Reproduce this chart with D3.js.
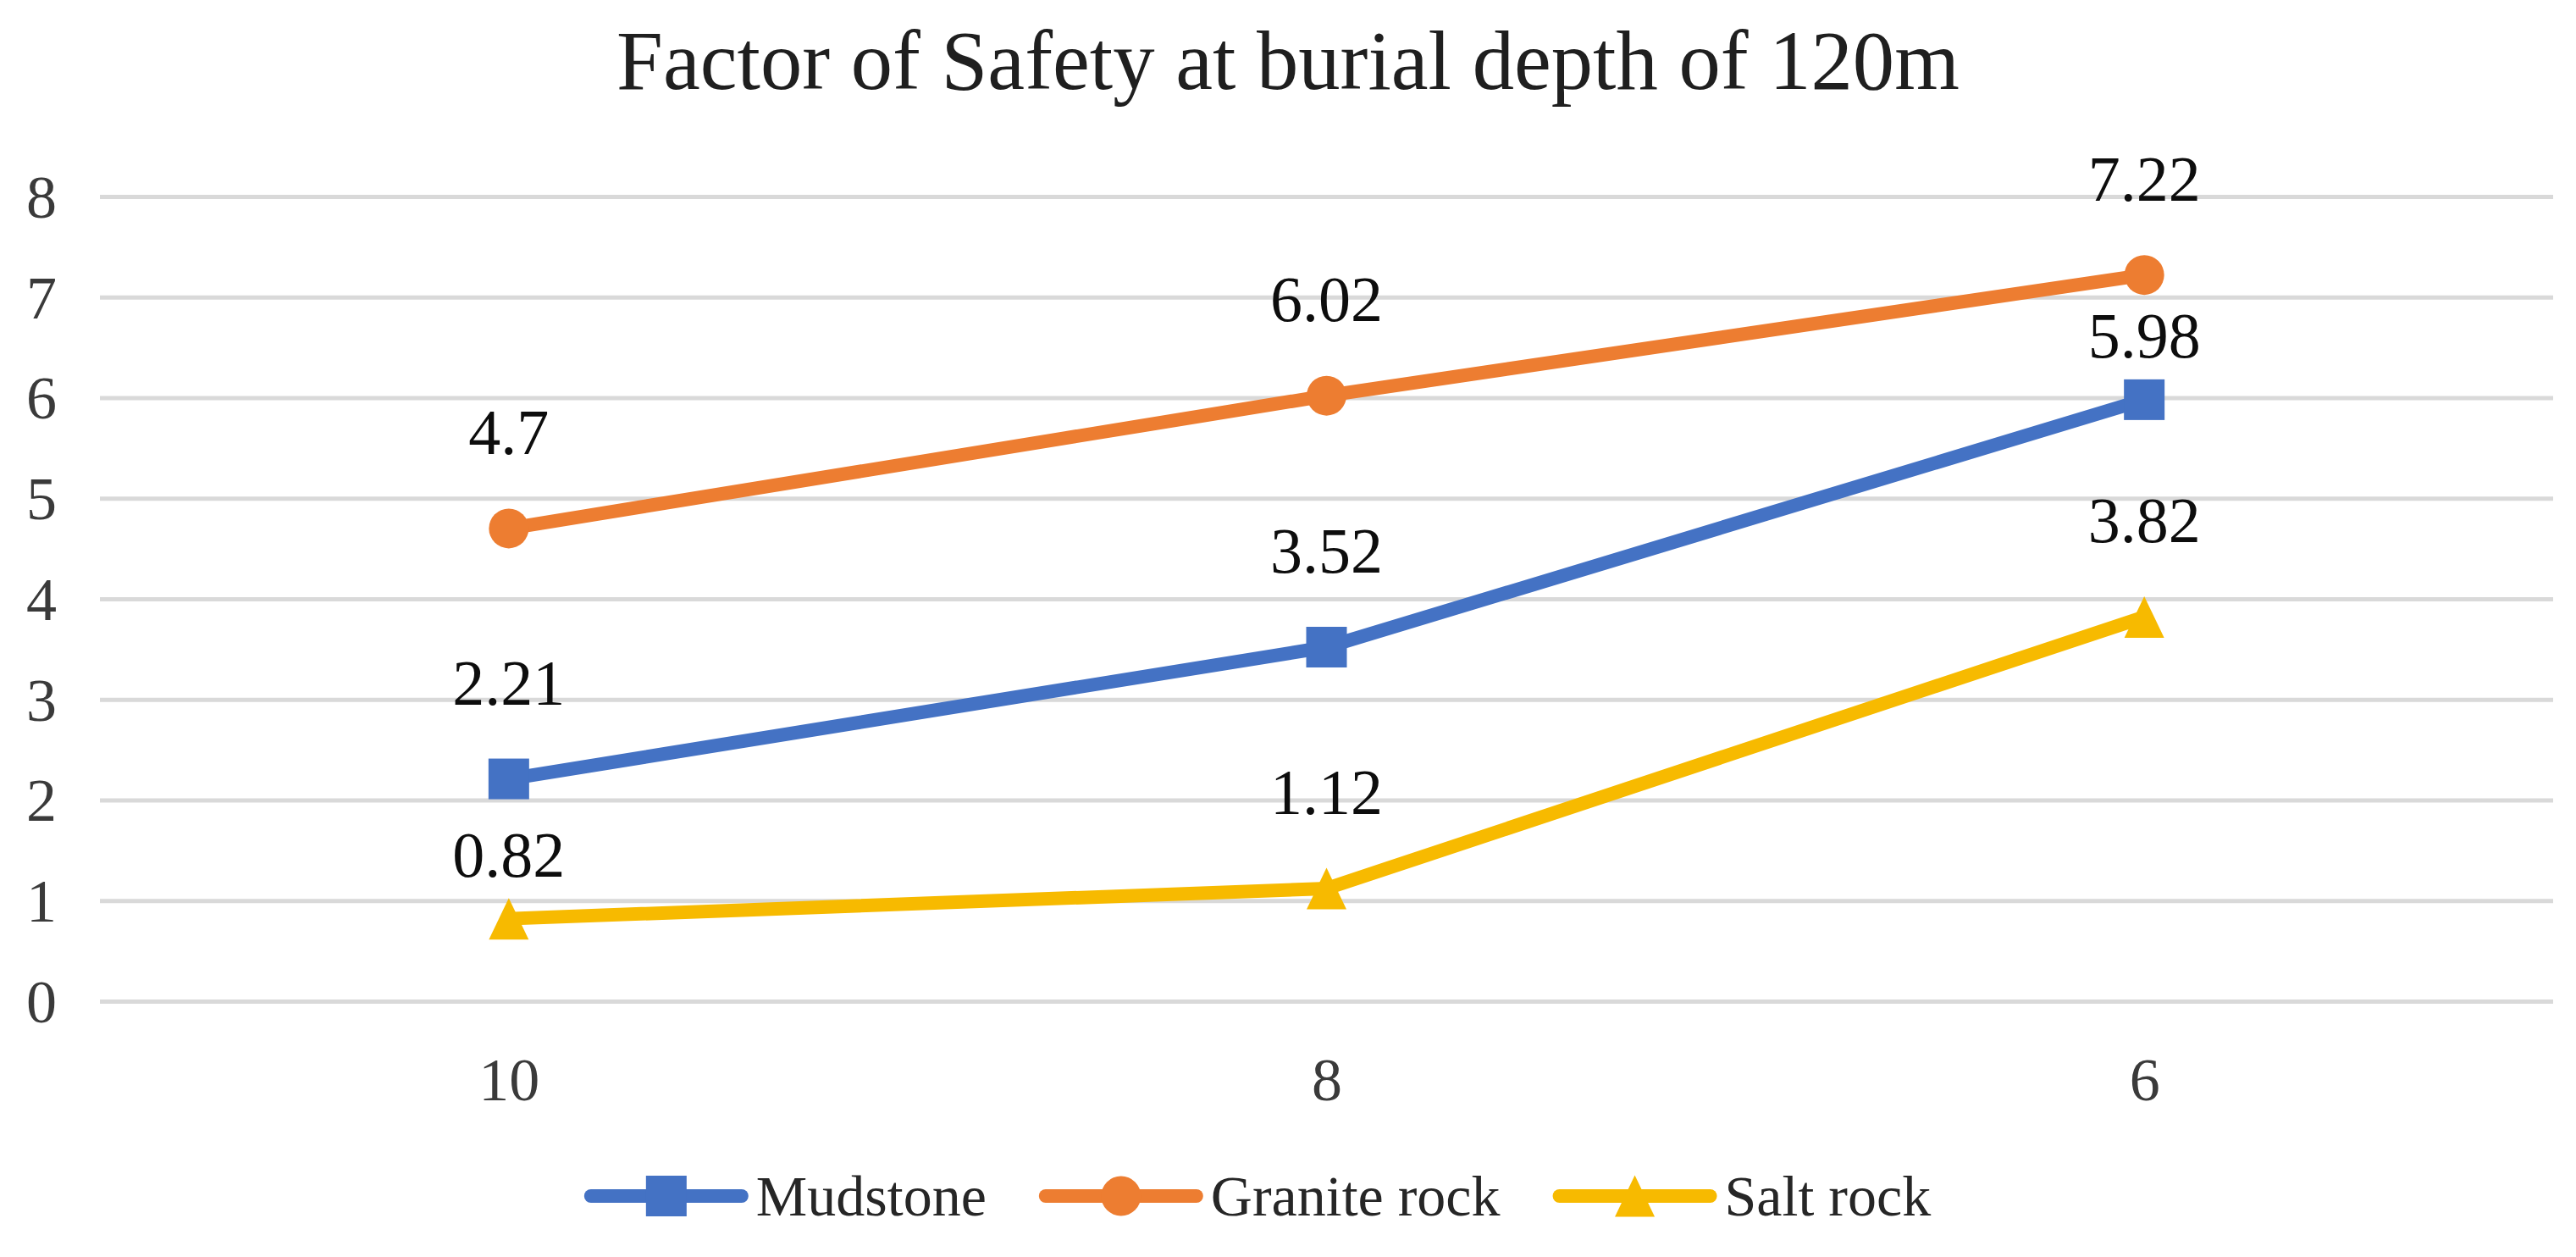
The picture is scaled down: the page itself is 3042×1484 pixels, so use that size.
<!DOCTYPE html>
<html>
<head>
<meta charset="utf-8">
<script src="https://cdn.jsdelivr.net/npm/d3@7"></script>
<style>
  html, body { margin: 0; padding: 0; background: #ffffff; }
  svg { display: block; }
  text { font-family: "Liberation Serif", "Times New Roman", serif; }
</style>
</head>
<body>
<svg id="chart" width="3042" height="1484"></svg>
<script>
// ---- data ----
const titleText = "Factor of Safety at burial depth of 120m";
const categories = ["10", "8", "6"];
const seriesNames = ["Mudstone", "Granite rock", "Salt rock"];
const mudstone = [2.21, 3.52, 5.98];
const granite = [4.7, 6.02, 7.22];
const salt = [0.82, 1.12, 3.82];
const yTicks = [0, 1, 2, 3, 4, 5, 6, 7, 8];

const seriesColors = ["#4472C4", "#ED7D31", "#F7BA00"];
const seriesShapes = ["square", "circle", "triangle"];
const seriesValues = [mudstone, granite, salt];

// labels that were moved closer to their markers in the original (series index, point index)
const labelNudge = { "0-2": 38, "2-0": 38 };

// ---- layout ----
const W = 3042, H = 1484;
const plotLeft = 118, plotRight = 3015, plotTop = 232, plotBottom = 1182;

const svg = d3.select("#chart");
svg.append("rect").attr("width", W).attr("height", H).attr("fill", "#ffffff");

const x = d3.scalePoint().domain(categories).range([plotLeft, plotRight]).padding(0.5);
const y = d3.scaleLinear().domain([0, 8]).range([plotBottom, plotTop]);

// title
const title = svg.append("text")
  .attr("x", 1521).attr("y", 105)
  .attr("text-anchor", "middle")
  .attr("fill", "#1f1f1f")
  .style("font-size", "100px")
  .text(titleText);
const tl = title.node().getComputedTextLength();
title.style("font-size", (100 * 1586 / tl) + "px");

// y axis with gridlines
const yAxis = svg.append("g")
  .attr("transform", `translate(${plotLeft},0)`)
  .call(d3.axisLeft(y).tickValues(yTicks).tickSize(-(plotRight - plotLeft)).tickPadding(51).tickFormat(d3.format("d")));
yAxis.select(".domain").remove();
yAxis.selectAll(".tick line").attr("stroke", "#d9d9d9").attr("stroke-width", 5);
yAxis.selectAll(".tick text")
  .attr("fill", "#3a3a3a")
  .style("font-size", "72px")
  .style("font-family", "'Liberation Serif', 'Times New Roman', serif")
  .attr("dy", "0.34em");

// x axis labels
const xAxis = svg.append("g")
  .attr("transform", `translate(0,${plotBottom})`)
  .call(d3.axisBottom(x).tickSize(0));
xAxis.select(".domain").remove();
xAxis.selectAll(".tick text")
  .attr("fill", "#3a3a3a")
  .style("font-size", "72px")
  .style("font-family", "'Liberation Serif', 'Times New Roman', serif")
  .attr("y", 117).attr("dy", 0);

// marker drawing
function drawMarker(g, shape, cx, cy, color) {
  if (shape === "square") {
    g.append("rect").attr("x", cx - 24).attr("y", cy - 24)
      .attr("width", 48).attr("height", 48).attr("fill", color);
  } else if (shape === "circle") {
    g.append("circle").attr("cx", cx).attr("cy", cy).attr("r", 23.5).attr("fill", color);
  } else {
    const hw = 23.5, hh = 24.5;
    g.append("path")
      .attr("d", `M${cx},${cy - hh}L${cx + hw},${cy + hh}L${cx - hw},${cy + hh}Z`)
      .attr("fill", color);
  }
}

// series
const line = d3.line().x((d, i) => x(categories[i])).y(d => y(d));
seriesValues.forEach((vals, s) => {
  const g = svg.append("g");
  g.append("path")
    .datum(vals)
    .attr("d", line)
    .attr("fill", "none")
    .attr("stroke", seriesColors[s])
    .attr("stroke-width", 16)
    .attr("stroke-linejoin", "round")
    .attr("stroke-linecap", "round");
  vals.forEach((v, i) => drawMarker(g, seriesShapes[s], x(categories[i]), y(v), seriesColors[s]));
});

// data labels
seriesValues.forEach((vals, s) => {
  svg.append("g").selectAll("text")
    .data(vals)
    .join("text")
    .attr("x", (d, i) => x(categories[i]))
    .attr("y", (d, i) => y(d) - 88 + (labelNudge[s + "-" + i] || 0))
    .attr("text-anchor", "middle")
    .attr("fill", "#0d0d0d")
    .style("font-size", "76px")
    .text(d => String(d));
});

// legend
const legend = svg.append("g");
const lineLen = 178, textGap = 17, itemGap = 70, legendCY = 1412;
let cursor = 0;
const items = [];
seriesNames.forEach((name, s) => {
  const t = legend.append("text")
    .attr("y", legendCY + 23)
    .attr("fill", "#262626")
    .style("font-size", "68px")
    .text(name);
  const tw = t.node().getComputedTextLength();
  items.push({ s, t, start: cursor });
  cursor += lineLen + textGap + tw + itemGap;
});
const totalW = cursor - itemGap;
const legendStart = 1489 - totalW / 2;
items.forEach(({ s, t, start }) => {
  const x0 = legendStart + start;
  legend.insert("line", "text")
    .attr("x1", x0).attr("x2", x0 + lineLen)
    .attr("y1", legendCY).attr("y2", legendCY)
    .attr("stroke", seriesColors[s]).attr("stroke-width", 16)
    .attr("stroke-linecap", "round");
  const mg = legend.append("g");
  drawMarker(mg, seriesShapes[s], x0 + lineLen / 2, legendCY, seriesColors[s]);
  t.attr("x", x0 + lineLen + textGap);
});
</script>
</body>
</html>
